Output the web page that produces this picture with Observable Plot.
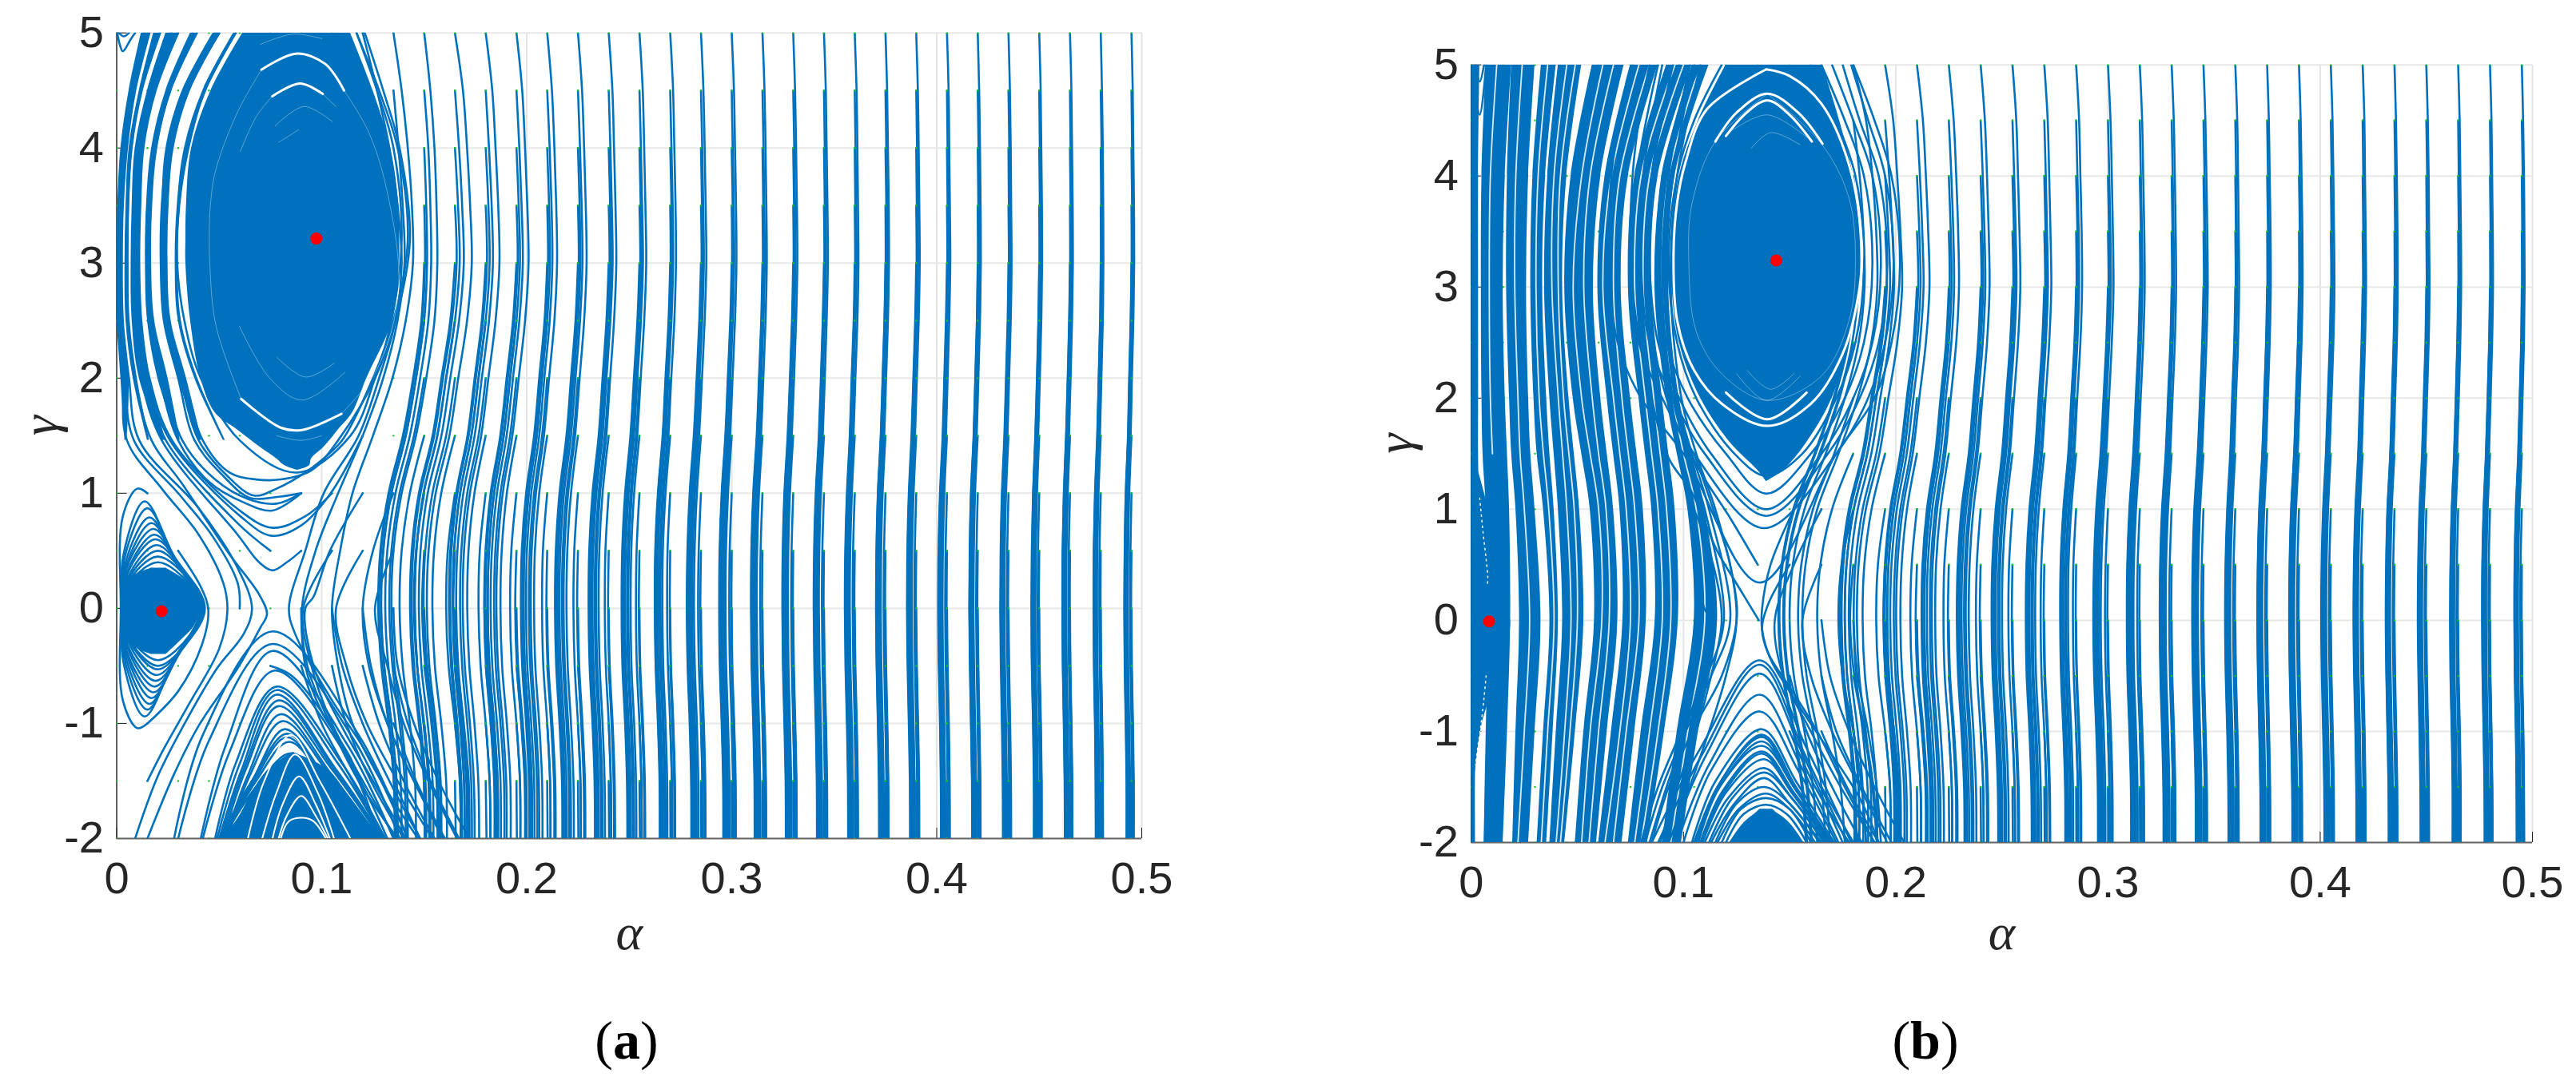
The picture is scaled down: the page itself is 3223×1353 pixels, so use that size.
<!DOCTYPE html>
<html><head><meta charset="utf-8">
<script src="https://cdn.jsdelivr.net/npm/d3@7"></script>
<script src="https://cdn.jsdelivr.net/npm/@observablehq/plot@0.6"></script>
<style>
html,body{margin:0;background:#fff}
#page{position:relative;width:3223px;height:1353px;overflow:hidden}
#page svg{position:absolute;top:0}
.cap{position:absolute;top:1260px;font:68px/84px "Liberation Serif";color:#000;transform:translateX(-50%)}
</style></head><body><div id="page"></div>
<script>
// ---- values. alpha in thousandths, gamma in hundredths where marked.
const xTicks=[0,0.1,0.2,0.3,0.4,0.5];
const yTicks=[-2,-1,0,1,2,3,4,5];
const seedGamma=[5,4.5,4,3.5,3,2.5,2,1.5,1,0.5,0,-0.5,-1,-1.5,-2];
const seedAlpha=[0,.015,.03,.045,.06,.075,.09,.105,.12,.135,.15,.165,.18,.195,.21,.225,.24,.255,.27,.285,.3,.315,.33,.345,.36,.375,.39,.405,.42,.435,.45,.465,.48,.495];
// trajectory drift from each seed row (1e-4 alpha), one measured profile per kind of column
const drift=[
[0,6,9,12,13,9,2,-4,-15,-20,-22,-20,-15,-11,-11],
[0,6,10,12,13,10,3,-4,-15,-21,-22,-20,-15,-12,-11],
[0,7,10,13,14,10,3,-5,-16,-22,-23,-21,-16,-12,-11],
[0,7,10,13,14,10,3,-5,-16,-22,-24,-22,-16,-12,-12],
[0,7,11,13,15,11,3,-5,-17,-23,-25,-22,-17,-13,-12],
[0,7,11,14,15,11,3,-5,-18,-24,-26,-23,-18,-13,-12],
[0,8,11,14,16,11,3,-5,-18,-25,-27,-24,-18,-14,-13],
[0,8,12,15,17,12,3,-6,-19,-26,-28,-25,-19,-14,-13],
[0,8,12,16,17,12,3,-6,-20,-27,-29,-26,-20,-15,-14],
[0,9,13,16,18,13,3,-6,-20,-28,-30,-27,-20,-15,-14],
[0,9,13,17,19,13,4,-6,-21,-29,-31,-28,-21,-16,-15],
[0,9,14,18,20,14,4,-7,-23,-31,-33,-30,-23,-17,-16],
[0,10,15,19,21,15,4,-7,-24,-33,-35,-32,-24,-18,-17],
[0,11,16,21,23,16,4,-8,-26,-36,-38,-35,-26,-19,-18],
[0,12,18,23,26,18,5,-9,-29,-40,-43,-39,-29,-22,-21],
[0,14,20,26,28,20,5,-9,-32,-45,-47,-43,-32,-24,-23],
[0,16,23,29,33,23,6,-11,-37,-51,-54,-50,-37,-28,-26],
[0,18,26,33,37,26,7,-12,-42,-58,-61,-56,-42,-32,-30],
[0,20,30,38,42,30,8,-14,-48,-66,-70,-64,-48,-36,-34],
[0,23,35,44,48,35,9,-16,-55,-76,-80,-74,-55,-41,-39],
[0,28,42,53,59,42,11,-20,-67,-92,-98,-90,-67,-50,-48],
[0,32,48,61,67,48,13,-22,-77,-106,-112,-102,-77,-58,-54],
[0,39,59,74,82,59,16,-27,-94,-129,-137,-125,-94,-70,-66],
[0,30,50,60,64,50,10,-40,-110,-150,-160,-145,-110,-85,-80],
[0,38,57,72,80,57,15,-27,-91,-125,-133,-122,-91,-68,-65],
[0,60,90,108,113,85,20,-70,-170,-225,-240,-220,-170,-130,-110]];
// [column alpha (thousandths), drift profile]
const columnsA=[[150,23],[165,22],[180,21],[195,20],[210,19],[225,18],[240,17],[255,16],[270,15],[285,14],[300,13],[315,12],[330,11],[345,10],[360,9],[375,8],[390,7],[405,6],[420,5],[435,4],[450,3],[465,2],[480,1],[495,0]];
const columnsB=[[180,25],[195,24],[210,20],[225,19],[240,18],[255,17],[270,16],[285,15],[300,14],[315,13],[330,12],[345,11],[360,9],[375,8],[390,8],[405,7],[420,6],[435,5],[450,4],[465,3],[480,2],[495,1]];
// filled regions
const massGammaA=[500,450,400,350,320,300,250,200,170,155,140,130,124,120];
const massLeftA=[61.5,46,36.5,34,33.7,33.7,36,41,48,59,70,78,82,88];
const massRightA=[114,125,133.6,137.6,138,137.9,134.5,122,115,108,101,95,94,88];
const coreGammaA=[35,25,15,0,-15,-30,-40];
const coreLeftA=[17,5,3,2.3,3,6,17];
const coreRightA=[24,33,38,40.6,38,30,24];
const baseGammaA=[-125,-140,-160,-180,-200];
const baseLeftA=[86,74,66,60,52];
const baseRightA=[86,103,112,120,130];
const massGammaB=[500,450,400,350,320,300,250,200,160,135,125];
const massLeftB=[120,107,98,95,94,94.5,98,108,122,135,139];
const massRightB=[165.5,173.5,180,183,183.5,183,178,170,158,147,139];
const coreGammaB=[140,104,55,19,0,-25,-63,-94,-140];
const coreRightB=[2.5,7.6,13,16,18.5,16.8,10,5,1.7];
const coreLeftB=[0,0,0,0,0,0,0,0,0];
const baseGammaB=[-170,-185,-200];
const baseLeftB=[136,128,122];
const baseRightB=[142,150,156];
// dense strand bundles: left edge and right edge at the knots
const bundleKnotsA=[500,450,400,350,300,250,200,146];
const bundlesA=[
[[12,6,2,.5,0,.2,2,4],[16,9,5,3.2,3,3,6,5]],
[[18,11,6,4.5,4,4.5,8,15],[22,13,8,6.3,6,6.5,10,16]],
[[24,15,9,7.5,7,7.5,11,22],[30,19,13,11.7,11.2,12,16,24]],
[[36,24,17,14.5,14,15,20,30],[40,27,20,17.5,17,18.5,25,31]],
[[47,32,24,22,21.5,23,30,40],[51,36,28,25.5,25,26.5,34,41.5]],
[[57,42,33,29.5,28.5,30,38,52],[59,44,35,31,30,31.5,39.5,53]]];
const bundleKnotsB=[500,400,300,200,150,100,0,-100,-200];
const bundlesB=[
[[0,0,0,0,0,0,0,0,0],[4,3.4,3.4,3.4,3.4,4,8,2.5,2]],
[[7,5,4.7,5,5.5,7,8,7,6],[19,16,15,16,17,18,18.5,17,15]],
[[19,17,16.6,18,19,21,22.7,21,19.5],[30,27,26,27,28,30,32.8,30,27]],
[[33,29,28,29.5,31,34,37,34,31],[40,35,33.6,35.5,37,39,41,38.5,35.5]],
[[41,36,34.5,37,39,41,43,40,37],[52,45,43,46,48.5,51,53,49,44]],
[[57,47,44,48,52,56,58,53,49],[72,61,57.5,61,64,67,69,64,59]],
[[75,63,59.6,64,67,70,71.4,66,60],[88,74,70.6,75,78,81,82.4,77,71]],
[[92,77,74,79,82,85,86.6,80,74],[104,88,85,90,93,96,97.5,91,83]],
[[104,90,86.5,92,97,102,105,97,90],[112,96,93,98,104,110,116,107,99]]];
// thin pale stripes inside the bundles of (b), alpha at bundleKnotsB
const slitsB=[[24,21,20.5,22,23,25,27.5,25,22],[36,31.5,30.5,32,34,36.5,39,36,33],[45,39,38,41,43,45,47,44,40],[49,42,41,43.5,46,48.5,50,46.5,42],[62,52,48,52,56,60,61.5,56,52],[67,56,53,57,60,63.5,65,60,55.5],[79,66,62,67,70,73,75,70,63],[84,70,67,71,74,77,79,73,67],[96,80,77,82,85,88,90,84,77],[100,84,81,86,89,92,94,88,80],[108,93,90,95,100,106,110,102,94],[12,9,8.5,9,10]];
// left-hand strands of (a): alpha at these gammas, then [alpha,gamma,...] onward
const leftKnotsA=[500,450,400,350,300,250,200,146];
const leftLinesA=[
[[13,7,3,1,.5,.6,3,5],[22,104,40,64,52,22,54,-2,50,-35,35,-84,23,-122,15,-150]],
[[14,8,4,2,1.5,2,4,8.4],[31,98,47,62,59,22,60,0]],
[[16,9,5,3,2.5,3,6,11],[40,87,59,35,66,0,62,-22,49,-52,35,-94,20,-146,9,-200]],
[[21,12,7,5.5,5,5.5,9,17],[32,108,55,47,69.5,12,73.3,-5,70,-17,59,-52,40,-102,28,-144,15,-200]],
[[26,16,10,8.5,8,8.5,12,22],[59,64,69.5,40,76,33,83,40,90,50]],
[[27,17,11,9.5,9,10,14,24],[59,74,75,50]],
[[29,18,12,10.5,10,11,15,26],[61,79,75.6,63,90,72,104,99,120,150]],
[[30,19,13,11.5,11,12,16,27],[60,85,76,70,92,80,105,100]],
[[37,25,18,15,14.5,15.5,21,30],[45,110,62,92,76,85,90,100]],
[[39,26,19,16,15.5,17,23,32],[48,112,64,95,78,91,90,100]],
[[48,33,25,22,21.5,23,30,38],[52,115,65,96,79,97,90,100]],
[[49,34,26,23,22.5,24,31,40],[54,115,67,98,78,104,92,118,104,135,110,146,125,200,135,250,142,320,137,400,128,450,117,500]],
[[50,35,27,24.5,23.5,25,33,42],[55,118,68,112,80,112,95,120,108,146,126,200,136,250,143,320,138,400,130,450,121,500]],
[[58,43,35,30.5,29.5,33,41,60],[88,118,114,150,126,200,134,250,139,320,135,400,127,450,117,500]]];
// other trajectories of (a), [alpha,gamma,...]
const curvesA=[
[120,500,127,450,133,400,137,350,139,300,136,250,128,200,118,150,101,100,92,50,84,0,87,-22,104,-77,122,-126,142,-200],
[135,500,139,450,142,400,144,350,144.5,300,141,250,134.5,200,125,150,115,100,109,50,105,0,108,-50,115,-100,129,-150,147,-200],
[135,450,137.5,400,139.5,350,140.4,300,137,250,130,200,120,150,108,100,97,50,90.4,0,93,-50,104,-100,118,-150,137,-200],
[135,100,125,50,120,0,123,-50,132,-100,145,-150,159,-200],
[135,50,126,0,132,-50,140,-100,152,-150,166,-200],
[135,0,137,-50,145,-100,157,-150,172,-200],
[135,-50,142,-100,153,-150,167,-200],
[135,-100,146,-150,160,-200],
[135,-150,148,-200],
[120,100,104,50,96,10,92,0,96,-50,109,-100,125,-150,141,-200],
[120,50,107,0,112,-50,122,-100,137,-150,154,-200],
[120,0,124,-50,132,-100,145,-150,160,-200],
[120,-50,128,-100,140,-150,155,-200],
[105,50,91,0,95,-50,105,-100,120,-150,136,-200],
[105,0,110,-50,120,-100,133,-150,148,-200],
[105,-50,112,-100,124,-150,140,-200],
[90,-50,100,-100,115,-150,130,-200],
[90,0,92,-50,100,-90,114,-130,128,-200],
[75,-50,85,-58,100,-90,118,-150,128,-200],
[15,100,10,104,3,80,2,0,3,-80,10,-104,15,-100],
[15,-100,30,-72,41.5,-32,44.7,-2,41.5,17,30,50],
[.3,500,1.5,490,3,484,7,495,9,500],
[1,500,3.5,497,6,500]];
// nested loops of the small lobe in (a): [left alpha, top gamma, top alpha, shoulder alpha, right alpha, bottom gamma]
const loopsA=[[2.5,93,13.6,27.6,43,-94],[3,87,15,28,42.4,-88],[3.5,79,16,29,42,-83],[4,74,17,30,41.6,-78],[4,69,18,31,41.2,-73],[4.5,64,18.5,32,41,-68],[4.5,60,19,33,40.8,-63],[5,55,19.5,34,40.8,-58],[5,50,20,35,40.6,-53],[5,45,20,36,40.6,-50],[5,40,20,36,40.6,-45]];
// arches of the lower lobe: [mid gamma, base left, mid left, peak alpha, peak gamma, mid right, base right]
const archesA=[[-110,28,42,76,-20,118,142],[-115,30,45,76,-31,116,138],[-120,41,53,76,-37,113,135],[-125,42,55,77,-54,111,132],[-135,48,58,78,-68,110,131],[-135,49,60,78,-71,108,130],[-140,50,61,78,-75,107,130],[-140,51,62,79,-80,106,129],[-140,52,63,79,-85,105,129],[-145,53,64,80,-92,105,128],[-145,54,65,81,-98,104,128],[-150,50,66,82,-105,103,127],[-150,50,66,83,-109,103,127],[-150,51,67,83,-112,102,127],[-150,52,68,84,-116,102,126],[-155,52,68,85,-126,101,125],[-160,53,70,86,-131,101,124],[-160,55,72,87,-138,100,122],[-165,58,74,88,-145,100,120],[-165,60,76,89,-152,100,118],[-170,62,78,89,-160,98,116],[-175,66,80,90,-168,98,112],[-190,72,82,91,-181,98,106]];
const archGapsA=[[-160,71,78,87,-127,98,106],[-185,80,84,91,-182,96,102],[-170,76,81,89,-146,97,104],[-180,79,83,90,-163,97,103],[-150,64,72,85,-110,99,114]];
const archesB=[[-115,85,108,136,-36,158,179],[-120,88,109,136,-40,157,177],[-120,93,111,136,-48,156,175],[-130,97,112,136,-67,155,173],[-135,100,113,136,-82,154,172],[-145,104,115,137,-98,153,171],[-150,105,116,137,-103,153,170],[-150,106,116,137,-105,152,170],[-150,106,117,137,-109,152,170],[-150,107,117,137,-113,152,169],[-155,108,118,137,-118,152,169],[-155,108,119,137,-120,151,168],[-155,109,120,138,-125,151,168],[-160,110,121,138,-133,151,167],[-160,112,123,138,-137,151,166],[-165,113,124,138,-142,150,165],[-165,115,125,138,-150,150,164],[-170,116,126,139,-156,150,162],[-170,118,127,139,-160,150,160],[-175,120,128,139,-166,149,158],[-180,122,130,139,-171,148,156],[-185,124,131,139,-177,147,154],[-190,126,133,140,-185,146,152]];
const archGapsB=[];
// orbits round the big lobe of (b): left at 500,450,400,320,250,200,150, bottom alpha, bottom gamma, right at 150,200,250,320,400,450,500
const ringsB=[[118,105,97,93,97,106,124,139,130,156,172,181,185,181,172,160],[108,97,90,88,92,102,120,139,114,160,176,185,189,185,176,165],[98,90,85,84,88,98,113,139,100,165,180,189,193,189,180,170],[90,85,81,80,84,95,110,139,94,168,183,192,196,192,183,175],[84,79,76,75,79,90,105,138,83,172,187,195,199,195,187,179],[76,70,66,65,69,80,100,136,34,172,190,198,202,198,190,180]];
const curvesB=[
[135.5,0,125,33,116,62,104,115,93,146,85,200,76,300,78,400,88,500],
[135,50,122,92,107,137,92,200,83,300,85,400,95,500],
[150,50,140,15,137,-7,140,-30,150,-60,163,-100,176,-150,190,-200],
[165,100,152,50,143,0,147,-50,160,-100,174,-150,190,-200],
[165,50,156,0,160,-50,170,-100,183,-150,196,-200],
[165,0,169,-50,178,-100,190,-150,204,-200],
[165,-50,172,-100,184,-150,198,-200],
[165,-100,177,-150,192,-200],
[165,-150,180,-200],
[150,-50,158,-100,170,-150,184,-200],
[150,-100,162,-150,178,-200],
[165,150,152,100,141,50,137,10,137,-8,141,-35,152,-70,166,-110,183,-160,192,-200],
[105,150,114,100,122,50,125,0,120,-50,112,-100,103,-150,95,-200],
[105,100,114,50,118,0,113,-50,106,-100,97,-150,89,-200],
[105,50,110,10,113,0,108,-50,101,-100,92,-150,84,-200],
[108,500,97,400,94,300,99,200,106,150,115,100,124,30,125,0,118,-50,104,-100,93,-150,85,-200],
[105,500,95,400,92,300,97,200,104,150,112,100,122,0,113,-50,101,-100,90,-150,82,-200],
[103,500,93,400,90,300,95,200,102,150,110,100,119,0,111,-50,99,-100,88,-150,80,-200],
[2,500,4,485,6,500],[1,488,4,455,7,500]];
// pale gaps inside the solid lobes, [alpha,gamma,...]
const gapsBoldA=[[70.6,468,87.5,482,101.8,473,110.9,450],[60.7,182,80,157,90.4,155,109.6,169],[75.9,445,89.5,456,100.5,447]];
const gapsThinA=[[45.3,341,47.9,378,58.9,431,70.6,468],[110.9,450,122.6,415,131.7,364,137.5,277,127,208,109.6,169],[60.7,182,48.5,245,45.4,300,45.3,341],[60.3,397,68,427,75.9,445],[100.5,447,107,436],[59.9,245,74.7,200,90.4,181,111.3,205],[77.2,419,91.4,436,105.1,423],[78.2,218,92.1,201,106.1,213],[79,405,83.6,410,88.8,416],[78,150,90,146,100,150],[70,490,86,499,100,495]];
const gapsBoldB=[[115,431,125,457,139.5,474,154,457,165.5,429],[120,436,128.6,455,139.5,468,150,455,160.5,431],[139,496,111,460,100.9,412,97,376,95.3,330,97,270,105,225,118,195,139.5,175,160,195,175,240,183,300,184,340,178,410,165,465,150,490,139,496],[120,205,139.5,181,158,205]];
const gapsThinB=[[122,440,139.5,455,158,435],[132,425,141,439,155,428],[125,222,139,198,155,220],[130,225,141,208,152,222],[139.5,474,115,431,104,375,102.5,323,106,260,118,222,139.5,198,165,220,178,270,181,323,178,380,165,429,139.5,474]];
const gapsDotsB=[[4,110,5.5,80,7,55,7.8,38,7.5,30],[7,-50,6,-70,4.5,-95,3,-115,2,-130]];
const redA=[[.0219,-.025],[.0974,3.213]];
const redB=[[.0084,-.01],[.1437,3.24]];

// ---- build tables
const flat=(arr,start=0)=>arr.flatMap((f,n)=>{const o=[];for(let i=0;i<f.length;i+=2)o.push({a:f[i]/1000,g:f[i+1]/100,id:start+n});return o;});
const band=(gs,l,r)=>gs.map((g,i)=>({g:g/100,a1:l[i]/1000,a2:r[i]/1000}));
function columnLines(cols){const o=[];let id=0;
  for(const [a0,p] of cols){const d=drift[p];
    for(let s=0;s<14;s++){id++;for(let k=s;k<15;k++)o.push({a:(a0+(d[k]-d[s])/10)/1000,g:seedGamma[k],id});}}
  return o;}
const archFlat=r=>[r[1],-200,r[2],r[0],r[3],r[4],r[5],r[0],r[6],-200];
const loopFlat=r=>[r[0],0,r[0]+.8,r[1]/2,r[2],r[1],r[3],r[1]/2,r[4],0,r[3],r[5]/2,r[2],r[5],r[0]+.8,r[5]/2];
const ringFlat=r=>[r[0],500,r[1],450,r[2],400,r[3],320,r[4],250,r[5],200,r[6],150,r[7],r[8],r[9],150,r[10],200,r[11],250,r[12],320,r[13],400,r[14],450,r[15],500];
const leftFlat=L=>[...L[0].flatMap((a,i)=>[a,leftKnotsA[i]]),...L[1]];
const slitFlat=r=>r.flatMap((a,i)=>[a,bundleKnotsB[i]]);

const blue="#0072BD";
function panel(o){
  const base={x:"a",y:"g",z:"id",clip:"frame"};
  const line=(data,opt={})=>Plot.line(data,{...base,stroke:blue,strokeWidth:2.6,curve:"catmull-rom",...opt});
  const area=d=>Plot.areaX(d,{x1:"a1",x2:"a2",y:"g",fill:blue,curve:"catmull-rom",clip:"frame"});
  return Plot.plot({
    width:o.w,height:1240,marginLeft:o.ml,marginRight:o.mr,marginTop:o.mt,marginBottom:o.mb,
    x:{domain:[0,.5]},y:{domain:[-2,5]},
    style:{fontFamily:"Liberation Sans",background:"transparent",left:o.left+"px"},
    marks:[
      Plot.ruleX(xTicks,{stroke:"#e4e4e4",strokeWidth:2}),
      Plot.ruleY(yTicks,{stroke:"#e8e8e8",strokeWidth:2}),
      Plot.axisX({ticks:xTicks,anchor:"bottom",tickSize:-13,tickPadding:42,tickFormat:String,fontSize:56,fill:"#262626",stroke:"#222",label:null}),
      Plot.axisY({ticks:yTicks,anchor:"left",tickSize:-13,tickPadding:29,tickFormat:String,fontSize:56,fill:"#262626",stroke:"#222",label:null}),
      Plot.ruleX([0],{stroke:"#333",strokeWidth:1.5}),
      Plot.ruleY([-2],{stroke:"#666",strokeWidth:2}),
      line(columnLines(o.cols)),
      Plot.dot(d3.cross(seedAlpha,seedGamma),{x:"0",y:"1",r:1.2,fill:"#12c81e",clip:"frame"}),
      ...o.areas.map(area),
      o.slits?line(flat(o.slits),{stroke:"#fff",strokeWidth:1.8,strokeOpacity:.85}):null,
      line(flat(o.curves)),
      o.loops?line(flat(o.loops),{curve:"catmull-rom-closed"}):null,
      line(flat(o.arches)),
      o.rings?line(flat(o.rings)):null,
      line(flat(o.gapsThin),{stroke:"#fff",strokeWidth:.8,strokeOpacity:.45}),
      line(flat(o.gapsBold),{stroke:"#fff",strokeWidth:3}),
      o.gapsDots?line(flat(o.gapsDots),{stroke:"#fff",strokeWidth:1.5,strokeDasharray:"2,5"}):null,
      o.archGaps.length?line(flat(o.archGaps),{stroke:"#fff",strokeWidth:2}):null,
      Plot.dot(o.red,{x:"0",y:"1",r:7.5,fill:"#ff0000"}),
      Plot.text(["α"],{x:.25,y:-2,dy:o.alphaDy,fontFamily:"Liberation Serif",fontStyle:"italic",fontSize:64,fill:"#262626"}),
      Plot.text(["γ"],{frameAnchor:"left",y:1.5,dx:-95,rotate:-90,fontFamily:"Liberation Serif",fontStyle:"italic",fontSize:64,fill:"#262626"})
    ]
  });
}
const page=document.getElementById("page");
const bundlesOf=(knots,list)=>list.map(([l,r])=>band(knots,l,r));
page.append(panel({left:0,w:1610,ml:145.5,mr:182,mt:40.7,mb:191,alphaDy:118,
  cols:columnsA,curves:[...leftLinesA.map(leftFlat),...curvesA],loops:loopsA.map(loopFlat),
  arches:archesA.map(archFlat),archGaps:archGapsA.map(archFlat),
  areas:[band(massGammaA,massLeftA,massRightA),band(coreGammaA,coreLeftA,coreRightA),band(baseGammaA,baseLeftA,baseRightA),...bundlesOf(bundleKnotsA,bundlesA)],
  gapsBold:gapsBoldA,gapsThin:gapsThinA,red:redA}));
page.append(panel({left:1610,w:1613,ml:230.3,mr:55,mt:80.7,mb:186,alphaDy:113,
  cols:columnsB,curves:curvesB,rings:ringsB.map(ringFlat),slits:slitsB.map(slitFlat),
  arches:archesB.map(archFlat),archGaps:archGapsB,
  areas:[band(massGammaB,massLeftB,massRightB),band(coreGammaB,coreLeftB,coreRightB),band(baseGammaB,baseLeftB,baseRightB),...bundlesOf(bundleKnotsB,bundlesB)],
  gapsBold:gapsBoldB,gapsThin:gapsThinB,gapsDots:gapsDotsB,red:redB}));
for(const [t,b,x] of [["(","a",784],["(","b",2409]]){
  const c=document.createElement("div");c.className="cap";c.style.left=x+"px";
  c.innerHTML=t+"<b>"+b+"</b>)";page.append(c);
}
</script></body></html>
